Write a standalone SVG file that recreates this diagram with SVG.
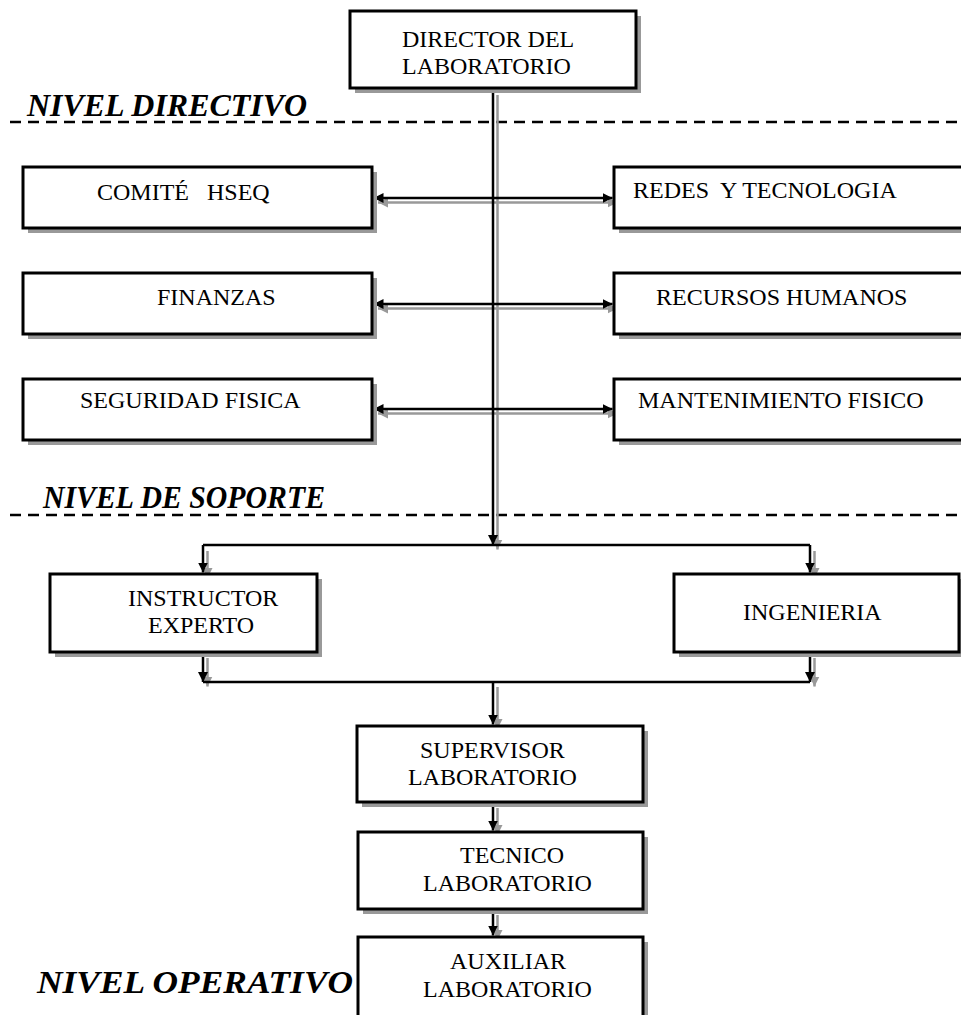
<svg xmlns="http://www.w3.org/2000/svg" width="961" height="1015" viewBox="0 0 961 1015">
<style>
.box{fill:#fff;stroke:#000;stroke-width:3}
.sh{fill:#999}
.t{font-family:"Liberation Serif","Times New Roman",serif;font-size:24px;fill:#000;white-space:pre}
.lvl{font-family:"Liberation Serif","Times New Roman",serif;font-size:32px;font-weight:bold;font-style:italic;fill:#000}
.dash{stroke:#000;stroke-width:2.5;stroke-dasharray:11 7;fill:none}
.k{stroke:#000;stroke-width:2.5;fill:none}
.g{stroke:#999;stroke-width:2.5;fill:none}
.ka{marker-end:url(#ak)}
.ga{marker-end:url(#ag)}
.kd{marker-start:url(#ak);marker-end:url(#ak)}
.gd{marker-start:url(#ag);marker-end:url(#ag)}
</style>
<defs>
<marker id="ak" markerUnits="userSpaceOnUse" markerWidth="11" markerHeight="11" refX="10" refY="5" orient="auto-start-reverse"><path d="M0,0 L10,5 L0,10 Z" fill="#000"/></marker>
<marker id="ag" markerUnits="userSpaceOnUse" markerWidth="11" markerHeight="11" refX="10" refY="5" orient="auto-start-reverse"><path d="M0,0 L10,5 L0,10 Z" fill="#999"/></marker>
</defs>
<rect width="961" height="1015" fill="#fff"/>
<g id="levels">
<line class="dash" x1="10" y1="122" x2="961" y2="122"/>
<line class="dash" x1="10" y1="515" x2="961" y2="515"/>
<text class="lvl" x="27" y="116" textLength="280" lengthAdjust="spacingAndGlyphs">NIVEL DIRECTIVO</text>
<text class="lvl" x="43" y="508" textLength="282" lengthAdjust="spacingAndGlyphs">NIVEL DE SOPORTE</text>
<text class="lvl" x="37" y="993" textLength="316" lengthAdjust="spacingAndGlyphs">NIVEL OPERATIVO</text>
</g>
<g id="connectors">
<path class="g ga" d="M497.5,95 V549.5"/>
<path class="g gd" d="M378,202.5 H617.5"/>
<path class="g gd" d="M378,308.5 H617.5"/>
<path class="g gd" d="M378,413.5 H617.5"/>
<path class="g ga" d="M207.5,551 V578"/>
<path class="g ga" d="M814.5,551 V578"/>
<path class="g ga" d="M207.5,658 V686.5"/>
<path class="g ga" d="M814.5,658 V686.5"/>
<path class="g ga" d="M497.5,687 V729"/>
<path class="g ga" d="M497.5,808 V835"/>
<path class="g ga" d="M497.5,915 V940"/>
<path class="k ka" d="M493,89.5 V545"/>
<path class="k kd" d="M373.5,198 H612.5"/>
<path class="k kd" d="M373.5,304 H612.5"/>
<path class="k kd" d="M373.5,409 H612.5"/>
<path class="k" d="M203,545 H810"/>
<path class="k ka" d="M203,545 V572.5"/>
<path class="k ka" d="M810,545 V572.5"/>
<path class="k ka" d="M203,653.5 V682"/>
<path class="k ka" d="M810,653.5 V682"/>
<path class="k" d="M203,682 H810"/>
<path class="k ka" d="M493,682 V724.5"/>
<path class="k ka" d="M493,803.5 V830.5"/>
<path class="k ka" d="M493,910.5 V935.5"/>
</g>
<g id="director">
<rect class="sh" x="355" y="16" width="286" height="77"/>
<rect class="box" x="350" y="11" width="286" height="77"/>
<text class="t" x="402" y="47">DIRECTOR DEL</text>
<text class="t" x="402" y="74">LABORATORIO</text>
</g>
<g id="comite">
<rect class="sh" x="28" y="172" width="349" height="61"/>
<rect class="box" x="23" y="167" width="349" height="61"/>
<text class="t" x="97" y="200">COMITÉ   HSEQ</text>
</g>
<g id="redes">
<rect class="sh" x="619" y="172" width="355" height="61"/>
<rect class="box" x="614" y="167" width="355" height="61"/>
<text class="t" x="633" y="198">REDES  Y TECNOLOGIA</text>
</g>
<g id="finanzas">
<rect class="sh" x="28" y="278" width="349" height="61"/>
<rect class="box" x="23" y="273" width="349" height="61"/>
<text class="t" x="157" y="305">FINANZAS</text>
</g>
<g id="rrhh">
<rect class="sh" x="619" y="278" width="355" height="61"/>
<rect class="box" x="614" y="273" width="355" height="61"/>
<text class="t" x="656" y="305">RECURSOS HUMANOS</text>
</g>
<g id="seguridad">
<rect class="sh" x="28" y="384" width="349" height="61"/>
<rect class="box" x="23" y="379" width="349" height="61"/>
<text class="t" x="80" y="408">SEGURIDAD FISICA</text>
</g>
<g id="mantenimiento">
<rect class="sh" x="619" y="384" width="355" height="61"/>
<rect class="box" x="614" y="379" width="355" height="61"/>
<text class="t" x="638" y="408">MANTENIMIENTO FISICO</text>
</g>
<g id="instructor">
<rect class="sh" x="55" y="579" width="267" height="78"/>
<rect class="box" x="50" y="574" width="267" height="78"/>
<text class="t" x="128" y="606">INSTRUCTOR</text>
<text class="t" x="148" y="633">EXPERTO</text>
</g>
<g id="ingenieria">
<rect class="sh" x="679" y="579" width="285" height="78"/>
<rect class="box" x="674" y="574" width="285" height="78"/>
<text class="t" x="743" y="620">INGENIERIA</text>
</g>
<g id="supervisor">
<rect class="sh" x="362" y="731" width="286" height="76"/>
<rect class="box" x="357" y="726" width="286" height="76"/>
<text class="t" x="420" y="758">SUPERVISOR</text>
<text class="t" x="408" y="785">LABORATORIO</text>
</g>
<g id="tecnico">
<rect class="sh" x="363" y="837" width="285" height="77"/>
<rect class="box" x="358" y="832" width="285" height="77"/>
<text class="t" x="460" y="863">TECNICO</text>
<text class="t" x="423" y="891">LABORATORIO</text>
</g>
<g id="auxiliar">
<rect class="sh" x="363" y="942" width="285" height="80"/>
<rect class="box" x="358" y="937" width="285" height="80"/>
<text class="t" x="450" y="969">AUXILIAR</text>
<text class="t" x="423" y="997">LABORATORIO</text>
</g>
</svg>
